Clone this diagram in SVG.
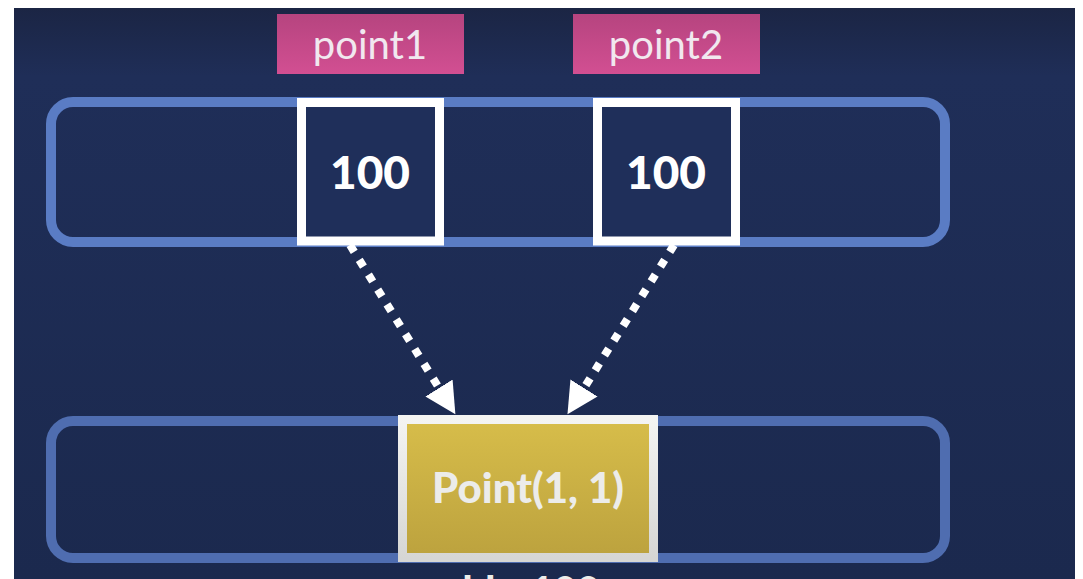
<svg xmlns="http://www.w3.org/2000/svg" width="1083" height="579" viewBox="0 0 1083 579">
  <defs>
    <linearGradient id="bg" x1="0" y1="0" x2="0" y2="1">
      <stop offset="0" stop-color="#1b2544"/>
      <stop offset="0.12" stop-color="#1f2e58"/>
      <stop offset="1" stop-color="#1b294e"/>
    </linearGradient>
    <linearGradient id="pink" x1="0" y1="0" x2="0" y2="1">
      <stop offset="0" stop-color="#b6447f"/>
      <stop offset="1" stop-color="#d24f92"/>
    </linearGradient>
    <linearGradient id="gold" x1="0" y1="0" x2="0" y2="1">
      <stop offset="0" stop-color="#d7bd4a"/>
      <stop offset="1" stop-color="#bca23e"/>
    </linearGradient>
    <linearGradient id="goldEdge" x1="0" y1="0" x2="0" y2="1">
      <stop offset="0" stop-color="#f4f4f2"/>
      <stop offset="1" stop-color="#d6d6d4"/>
    </linearGradient>
    <marker id="head" markerUnits="userSpaceOnUse" markerWidth="32" markerHeight="32" refX="0" refY="16" orient="auto" viewBox="0 0 32 32">
      <path d="M0,0 L31,16 L0,32 Z" fill="#ffffff"/>
    </marker>
  </defs>
  <style>
    .lane { fill: none; stroke-width: 10; }
    .cell { fill: #1f2f5a; stroke: #ffffff; stroke-width: 9; }
    .tag { fill: url(#pink); }
    .tag-text { font-family: "Lato", "Open Sans", sans-serif; font-size: 40px; fill: #f1e8ef; text-anchor: middle; }
    .val { font-family: "Lato", "Open Sans", sans-serif; font-weight: 900; font-size: 46px; fill: #ffffff; text-anchor: middle; }
    .obj-text { font-family: "Lato", "Open Sans", sans-serif; font-weight: 900; font-size: 42px; fill: #ececea; text-anchor: middle; }
    .caption { font-family: "Lato", "Open Sans", sans-serif; font-weight: 900; font-size: 40px; fill: #ececea; text-anchor: end; }
    .ref { fill: none; stroke: #ffffff; stroke-width: 8; stroke-dasharray: 8 9.5; marker-end: url(#head); }
  </style>

  <!-- page frame and backdrop -->
  <rect x="0" y="0" width="1083" height="579" fill="#ffffff"/>
  <rect x="14" y="8" width="1061" height="571" fill="url(#bg)"/>

  <!-- stack row -->
  <g id="stack">
    <rect class="lane" x="51" y="102" width="894" height="140" rx="22" stroke="#5a7cc4"/>
  </g>

  <!-- heap row -->
  <g id="heap">
    <rect class="lane" x="51" y="421" width="894" height="137" rx="22" stroke="#4f6db0"/>
  </g>

  <!-- variable labels -->
  <g id="label-point1">
    <rect class="tag" x="277" y="14" width="187" height="60"/>
    <text class="tag-text" x="370" y="59">point1</text>
  </g>
  <g id="label-point2">
    <rect class="tag" x="573" y="14" width="187" height="60"/>
    <text class="tag-text" x="666" y="59">point2</text>
  </g>

  <!-- stack slots holding the reference -->
  <g id="slot-point1">
    <rect class="cell" x="301.5" y="102.5" width="138" height="138.5"/>
    <text class="val" x="370" y="189">100</text>
  </g>
  <g id="slot-point2">
    <rect class="cell" x="597.5" y="102.5" width="138" height="138.5"/>
    <text class="val" x="666" y="189">100</text>
  </g>

  <!-- object on the heap -->
  <g id="object">
    <rect x="402.5" y="419.5" width="251" height="138" fill="url(#gold)" stroke="url(#goldEdge)" stroke-width="9"/>
    <text class="obj-text" x="528" y="503">Point(1, 1)</text>
  </g>

  <!-- address caption, running off the bottom edge -->
  <g id="caption">
    <text class="caption" x="600" y="605">addr: 100</text>
  </g>

  <!-- references from stack slots to the object -->
  <g id="connectors">
    <line class="ref" x1="350" y1="245" x2="439" y2="388"/>
    <line class="ref" x1="674" y1="245" x2="584" y2="388"/>
  </g>
</svg>
